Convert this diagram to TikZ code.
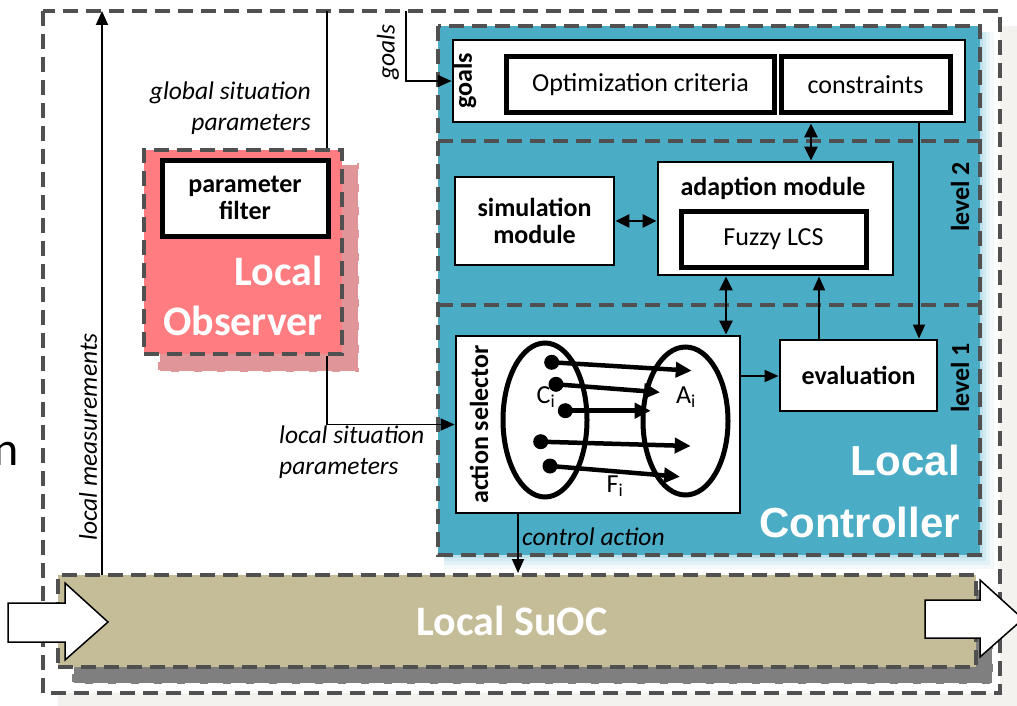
\documentclass[tikz,border=0pt]{standalone}
\usepackage{fontspec}
\setmainfont{Carlito}
\newfontfamily\arialf{Liberation Sans}
\usetikzlibrary{arrows.meta,calc}
\definecolor{dgray}{HTML}{505050}
\definecolor{cblue}{HTML}{4BACC6}
\definecolor{cred}{HTML}{FF7C80}
\definecolor{credsh}{HTML}{E09698}
\definecolor{ctan}{HTML}{C4BD97}
\definecolor{cgsh}{HTML}{7F7F7F}
\definecolor{cbg}{HTML}{F3F2EE}
\definecolor{cglow}{HTML}{9ED3E3}
\tikzset{
  dashbox/.style={draw=dgray,line width=4,dash pattern=on 15 off 8},
  shbox/.style={draw=white,line width=3,dash pattern=on 15 off 8},
  wbox/.style={draw=black,fill=white,line width=2.8,inner sep=0,align=center,font=\bfseries\fontsize{26}{30}\selectfont},
  tbox/.style={draw=black,fill=white,line width=5,inner sep=0,align=center,font=\fontsize{26}{30}\selectfont},
  conn/.style={line width=1.8,-{Triangle[length=14,width=12]}},
  dconn/.style={line width=2.4,{Triangle[length=14,width=13]}-{Triangle[length=14,width=13]}},
  earr/.style={line width=4.5,-{Triangle[length=16,width=15]}},
  dot/.style={circle,fill=black,inner sep=0,minimum size=15},
  lab/.style={font=\itshape\fontsize{25.5}{31}\selectfont,inner sep=0},
  rlab/.style={font=\bfseries\fontsize{26}{30}\selectfont,inner sep=0,rotate=90},
}
\begin{document}
\begin{tikzpicture}[x=1pt,y=-1pt]
\useasboundingbox (0,0) rectangle (1017,706);
% background shadow and outer box
\fill[cbg] (58,26) rectangle (1030,720);
\fill[white] (43,11) rectangle (1000,693);
\draw[dashbox,line width=3.5] (43,11) rectangle (1000,693);
% left cut text
\node[anchor=base east,inner sep=0,font=\fontsize{48}{50}\selectfont] (ntext) at (19,465) {n};
% Local SuOC shadow and box
\fill[cgsh] (72,590) rectangle (993,684);
\draw[shbox] (72,590) rectangle (993,684);
\node[dashbox,fill=ctan,minimum width=918,minimum height=92,inner sep=0] (suoc) at (517,621) {};
\node[font=\bfseries\fontsize{42}{44}\selectfont,text=white] (suoctext) at (512,621) {Local SuOC};
% big arrows
\draw[fill=white,line width=1.5] (8,603) -- (65,603) -- (65,583) -- (108,622) -- (65,660) -- (65,642) -- (8,642) -- cycle;
\draw[fill=white,line width=1.5] (925,600) -- (980,600) -- (980,580) -- (1023,619) -- (980,657) -- (980,638) -- (925,638) -- cycle;
% Local Observer
\fill[credsh] (158,163) rectangle (359,372);
\draw[shbox] (158,163) rectangle (359,372);
\node[dashbox,fill=cred,minimum width=198,minimum height=204,inner sep=0] (obs) at (243,252) {};
\node[tbox,minimum width=166,minimum height=76,font=\bfseries\fontsize{26}{30}\selectfont] (pf) at (245,198) {parameter\\[-3pt]filter};
\node[anchor=east,align=right,text=white,font=\bfseries\fontsize{42}{50}\selectfont,inner sep=0] (obstext) at (323,296) {Local\\Observer};
% Local Controller glow
\foreach \d/\o in {14/0.12,10/0.18,6/0.25,3/0.35}{
  \fill[cglow,opacity=\o] (444,32) rectangle (980+\d,555+\d);
}
\fill[cblue] (438,26) rectangle (980,555);
\draw[dashbox] (438,26) rectangle (980,555);
\draw[dashbox] (438,141) -- (980,141);
\draw[dashbox] (438,305) -- (980,305);
% goals section
\node[wbox,minimum width=512,minimum height=82] (goals) at (709,81) {};
\node[rlab] (goalslab) at (465,81) {goals};
\node[tbox,minimum width=268,minimum height=56] (opt) at (640.5,85) {Optimization criteria};
\node[tbox,minimum width=169,minimum height=56] (cons) at (865.5,85) {constraints};
% level 2
\node[wbox,minimum width=159,minimum height=88] (sim) at (534.5,221) {simulation\\[-3pt]module};
\node[wbox,minimum width=235,minimum height=113] (adapt) at (775.5,218.5) {};
\node[inner sep=0,font=\bfseries\fontsize{26}{30}\selectfont] (adaptlab) at (773,188) {adaption module};
\node[tbox,minimum width=185,minimum height=56] (fuzzy) at (773.5,239) {Fuzzy LCS};
\node[rlab] (lv2) at (960,197) {level 2};
% level 1
\node[wbox,minimum width=284,minimum height=177] (act) at (598,424.5) {};
\node[rlab] (actlab) at (479,424.5) {action selector};
\node[wbox,minimum width=157,minimum height=71] (eval) at (858.5,375.5) {evaluation};
\node[rlab] (lv1) at (960,378) {level 1};
\node[anchor=east,align=right,text=white,font=\arialf\bfseries\fontsize{42}{62}\selectfont,inner sep=0] (ctrltext) at (960,491) {Local\\Controller};
% ellipses
\draw[line width=5] (545,420) ellipse [x radius=42,y radius=77];
\draw[line width=5] (685.5,421) ellipse [x radius=42.5,y radius=74];
\node[dot] (d1) at (551.7,362.3) {};
\node[dot] (d2) at (556,384.3) {};
\node[dot] (d3) at (565.3,410.7) {};
\node[dot] (d4) at (540.7,441.7) {};
\node[dot] (d5) at (550,466) {};
\coordinate (t1) at (691.7,370.7);
\coordinate (t2) at (660,392.3);
\coordinate (t3) at (650.7,410.7);
\coordinate (t4) at (690.7,446);
\coordinate (t5) at (680,476.7);
\foreach \i in {1,...,5}{\draw[earr] (d\i.center) -- (t\i);}
\node[inner sep=0,font=\fontsize{26}{30}\selectfont] (ci) at (546,397) {C\textsubscript{i}};
\node[inner sep=0,font=\fontsize{26}{30}\selectfont] (ai) at (686,397) {A\textsubscript{i}};
\node[inner sep=0,font=\fontsize{26}{30}\selectfont] (fi) at (615,486) {F\textsubscript{i}};
% connectors
\coordinate (lmT) at (102,11);
\coordinate (lmB) at (102,575);
\draw[conn] (lmB) -- (lmT);
\node[lab,rotate=90] (lmlab) at (88,437) {local measurements};
\coordinate (gsT) at (327,11);
\draw[line width=1.8] (gsT) -- (gsT |- obs.north);
\node[lab,align=right,anchor=east] (gslab) at (311,108) {global situation\\parameters};
\coordinate (goT) at (406,11);
\draw[conn] (goT) |- (goals.west);
\node[lab,rotate=90] (golab) at (388,52) {goals};
\coordinate (lsx) at (327,0);
\draw[conn] (lsx |- obs.south) |- (act.west);
\node[lab,align=left,anchor=west] (lslab) at (279,452) {local situation\\parameters};
\coordinate (x811) at (811,0);
\draw[dconn] (goals.south -| x811) -- (adapt.north -| x811);
\draw[dconn] (sim.east) -- (sim.east -| adapt.west);
\coordinate (x726) at (726,0);
\draw[dconn] (adapt.south -| x726) -- (act.north -| x726);
\coordinate (x819) at (819,0);
\draw[conn] (eval.north -| x819) -- (adapt.south -| x819);
\coordinate (x919) at (919,0);
\draw[conn] (goals.south -| x919) -- (eval.north -| x919);
\coordinate (y376) at (0,376);
\draw[conn] (act.east |- y376) -- (eval.west |- y376);
\coordinate (x518) at (518,0);
\draw[conn] (act.south -| x518) -- (suoc.north -| x518);
\node[lab,anchor=west] (calab) at (522,537) {control action};
\end{tikzpicture}
\end{document}
